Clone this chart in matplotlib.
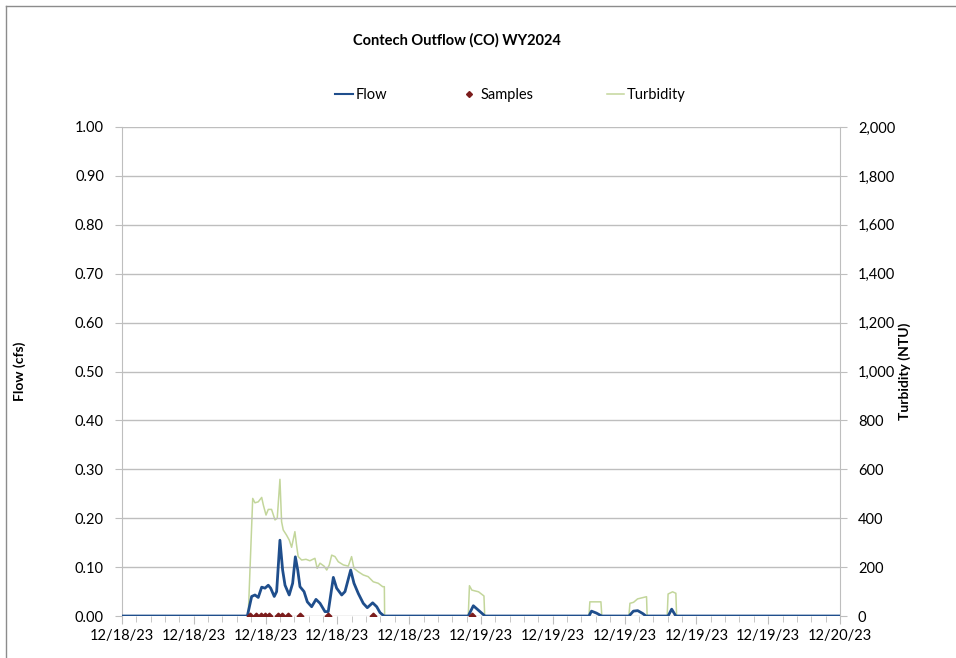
import numpy as np
import pandas as pd
import matplotlib
matplotlib.use("Agg")
import matplotlib.pyplot as plt
import matplotlib.dates as mdates
from matplotlib.lines import Line2D
from matplotlib.ticker import FuncFormatter, FixedLocator

# data, times in hours after 12/18/23 00:00
start = pd.Timestamp("2023-12-18 00:00")

flow_hr = [0.0, 8.38, 8.67, 8.89, 9.11, 9.34, 9.56, 9.78, 9.94, 10.18, 10.34, 10.56, 10.74,
           10.90, 11.18, 11.41, 11.59, 11.75, 11.90, 12.17, 12.39, 12.68, 12.97, 13.24,
           13.57, 13.79, 14.13, 14.35, 14.69, 14.91, 15.29, 15.51, 15.80, 16.13, 16.40,
           16.76, 17.03, 17.25, 17.52,
           23.15, 23.49, 24.27,
           31.22, 31.39, 31.72, 32.07,
           33.90, 34.19, 34.48, 34.82, 35.03,
           36.51, 36.75, 37.03, 48.0]
flow_cfs = [0.0, 0.0, 0.040, 0.043, 0.038, 0.059, 0.057, 0.063, 0.057, 0.040, 0.050, 0.155, 0.094,
            0.063, 0.043, 0.067, 0.121, 0.094, 0.060, 0.050, 0.029, 0.019, 0.034, 0.026,
            0.009, 0.009, 0.079, 0.057, 0.043, 0.050, 0.094, 0.067, 0.046, 0.026, 0.017,
            0.027, 0.019, 0.007, 0.0,
            0.0, 0.021, 0.0,
            0.0, 0.010, 0.006, 0.0,
            0.0, 0.010, 0.011, 0.005, 0.0,
            0.0, 0.014, 0.0, 0.0]

turb_hr = [0.0, 8.44, 8.74, 8.89, 9.11, 9.34, 9.45, 9.63, 9.78, 10.00, 10.23, 10.38, 10.56,
           10.67, 10.78, 11.00, 11.18, 11.34, 11.56, 11.67, 11.78, 12.01, 12.30, 12.56,
           12.90, 13.05, 13.24, 13.51, 13.69, 13.86, 14.02, 14.24, 14.46, 14.80, 15.13,
           15.35, 15.51, 15.80, 16.13, 16.46, 16.80, 17.13, 17.43, 17.54, 17.56,
           23.15, 23.23, 23.39, 23.84, 24.20, 24.25,
           31.22, 31.28, 32.02, 32.08,
           33.89, 33.96, 34.20, 34.47, 34.80, 35.07, 35.11,
           36.45, 36.51, 36.81, 37.03, 37.08, 48.0]
turb_ntu = [0, 0, 481, 463, 467, 485, 454, 413, 436, 436, 393, 400, 559,
            386, 352, 331, 311, 281, 345, 290, 243, 229, 232, 226,
            236, 195, 216, 204, 188, 209, 249, 243, 222, 209, 204,
            243, 195, 181, 168, 161, 140, 134, 120, 120, 0,
            0, 124, 106, 99, 82, 0,
            0, 58, 58, 0,
            0, 52, 56, 70, 75, 79, 0,
            0, 90, 99, 93, 0, 0]

sample_hr = [8.56, 8.94, 9.27, 9.56, 9.83, 10.41, 10.68, 11.12, 11.90, 13.79, 16.80, 23.42]
sample_cfs = [0.0] * len(sample_hr)

def to_time(hrs):
    return [start + pd.to_timedelta(h, unit="h") for h in hrs]

flow_t = to_time(flow_hr)
turb_t = to_time(turb_hr)
samp_t = to_time(sample_hr)

plt.rcParams['font.family'] = ['Lato', 'DejaVu Sans']
fig = plt.figure(figsize=(9.56, 6.58), dpi=100)
ax = fig.add_axes([0.1276, 0.0638, 0.7510, 0.7432])
ax2 = ax.twinx()

turb_col = '#C3D69B'
flow_col = '#1F4E8C'
samp_col = '#7B1C1C'

ax2.plot(turb_t, turb_ntu, color=turb_col, lw=1.1, zorder=2)
ax.plot(flow_t, flow_cfs, color=flow_col, lw=2.0, zorder=3)
ax.plot(samp_t, sample_cfs, linestyle='none', marker='D', ms=3.4, color=samp_col, zorder=4)

# put flow axes above the twin so lines overlay turbidity
ax.set_zorder(ax2.get_zorder() + 1)
ax.patch.set_visible(False)

t0 = start
t1 = start + pd.Timedelta(hours=48)
ax.set_xlim(t0, t1)
ax.set_ylim(0, 1.0)
ax2.set_ylim(0, 2000)

ax.set_yticks(np.arange(0, 1.01, 0.1))
ax.yaxis.set_major_formatter(FuncFormatter(lambda v, p: f"{v:.2f}"))
ax2.set_yticks(np.arange(0, 2001, 200))
ax2.yaxis.set_major_formatter(FuncFormatter(lambda v, p: f"{int(round(v)):,}"))

major = [mdates.date2num(start + pd.Timedelta(hours=4.8 * i)) for i in range(11)]
minor = [mdates.date2num(start + pd.Timedelta(hours=0.96 * i)) for i in range(51)]
ax.xaxis.set_major_locator(FixedLocator(major))
ax.xaxis.set_minor_locator(FixedLocator(minor))
ax.xaxis.set_major_formatter(mdates.DateFormatter('%m/%d/%y'))

ax.grid(axis='y', color='#BEBEBE', lw=1.0)
ax.set_axisbelow(True)

for a in (ax, ax2):
    for s in a.spines.values():
        s.set_visible(False)
ax.spines['left'].set_visible(True)
ax.spines['left'].set_color('#BEBEBE')
ax2.spines['right'].set_visible(True)
ax2.spines['right'].set_color('#BEBEBE')

ax.tick_params(axis='y', direction='out', length=5, color='#BEBEBE', labelsize=10.5, pad=8)
ax2.tick_params(axis='y', direction='out', length=5, color='#BEBEBE', labelsize=10.5, pad=8)
ax.tick_params(axis='x', which='major', direction='out', length=6, color='#BEBEBE', labelsize=10.5, pad=3)
ax.tick_params(axis='x', which='minor', direction='out', length=4, color='#BEBEBE')

ax.set_ylabel('Flow (cfs)', fontsize=10, fontweight='bold')
ax2.set_ylabel('Turbidity (NTU)', fontsize=10, fontweight='bold')
ax.yaxis.set_label_coords(-0.134, 0.5)
ax2.yaxis.set_label_coords(1.082, 0.5)

fig.text(0.478, 0.938, 'Contech Outflow (CO) WY2024', ha='center', va='center',
         fontsize=10.5, fontweight='bold')

handles = [Line2D([], [], color=flow_col, lw=1.5),
           Line2D([], [], color=samp_col, marker='D', ms=3, linestyle='none'),
           Line2D([], [], color=turb_col, lw=1.1)]
fig.legend(handles, ['Flow', 'Samples', 'Turbidity'], loc='center', ncol=3,
           bbox_to_anchor=(0.534, 0.855), frameon=False, fontsize=10.5,
           handlelength=1.2, handletextpad=0.2, columnspacing=5.0)

# chart border
fig.add_artist(Line2D([6 / 956, 1.0], [1 - 6 / 658, 1 - 6 / 658], color='#8C8C8C', lw=1.0))
fig.add_artist(Line2D([6 / 956, 6 / 956], [0.0, 1 - 6 / 658], color='#8C8C8C', lw=1.0))

fig.savefig('out.png', dpi=100)
